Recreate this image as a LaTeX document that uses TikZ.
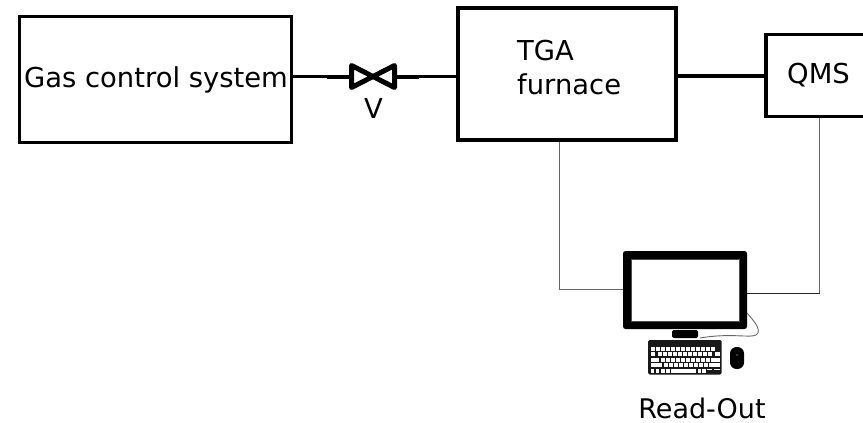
\documentclass[tikz,border=0pt]{standalone}
\usepackage{fontspec}
\setmainfont{DejaVu Sans}
\tikzset{
  x=1pt,y=-1pt,
  blockbox/.style={draw=black,line width=3.5pt,fill=white,inner sep=0pt,rectangle},
  pipe/.style={draw=black,line width=3.2pt},
  lab/.style={font=\fontsize{27.4}{34}\selectfont,text=black,inner sep=0pt},
  keycap/.style={fill=white,draw=none},
}
\begin{document}
\begin{tikzpicture}
\useasboundingbox (0,0) rectangle (863,423);
\node[blockbox,minimum width=272pt,minimum height=126pt] (gas) at (155.5,79.5) {};
\node[blockbox,minimum width=218pt,minimum height=132pt] (tga) at (567,74) {};
\node[blockbox,minimum width=104pt,minimum height=81.6pt] (qms) at (818,75.5) {};
\node[lab,anchor=base] (gaslab) at (156,87) {Gas control system};
\node[lab,align=left,anchor=north west] (tgalab) at (517,40) {TGA\\furnace};
\node[lab,anchor=base] (qmslab) at (818.5,83) {QMS};
\node[lab,anchor=base] (vlab) at (373.5,118) {V};
\node[lab,anchor=base,font=\fontsize{27}{27}\selectfont] (readlab) at (702,418.5) {Read-Out};
% valve
\coordinate (vc) at (373.5,76.7);
\draw[pipe] (gas.east |- vc) -- (352,76.7);
\draw[pipe] (395,76.7) -- (tga.west |- vc);
\draw[pipe,line width=2pt] (327,78) -- (352,78);
\draw[pipe,line width=2pt] (395,78) -- (419,78);
\draw[line width=5pt,black,line join=round] (351.5,65.5) -- (394.5,87.5) -- (394.5,65.5) -- (351.5,87.5) -- cycle;
\draw[draw=black,line width=4pt] (tga.east |- 0,76) -- (qms.west |- 0,76);
% monitor
\node[fill=black,draw=none,rounded corners=2.5pt,minimum width=124pt,minimum height=78pt,inner sep=0pt] (mon) at (685,290) {};
\node[fill=white,draw=black!70,line width=0.3pt,minimum width=108pt,minimum height=62pt,inner sep=0pt] (screen) at (685,290) {};
\coordinate (monL) at (623,289);
\coordinate (monR) at (747,293);
\draw[draw=black!60,line width=1pt] (tga.south -| 559,0) -- (559,289) -- (monL);
\draw[draw=black!60,line width=1pt] (qms.south -| 819.5,0) -- (819.5,293);
\draw[draw=black!85,line width=0.9pt] (819.5,293) -- (monR);
\fill[black,rounded corners=1.5pt] (672,330) rectangle (698,338);
% cable
\draw[black!60,line width=0.9pt] (747,313) .. controls (752,319) and (760,327) .. (758,333) .. controls (755,340) and (735,332) .. (700,338);
% keyboard
\fill[black!90,rounded corners=1.5pt] (648,340) rectangle (721.5,374.5);
\foreach \xx in {650.5,655.5,...,715}{\fill[keycap] (\xx,346.5) rectangle +(4,4.2);}
\foreach \xx in {650.5,658,663,...,710}{\fill[keycap] (\xx,352) rectangle +(4,4.2);}
\fill[keycap] (715,352) rectangle (719.5,356.2);
\fill[keycap] (650.5,357.6) rectangle (659,361.8);
\foreach \xx in {660.5,665.5,...,706}{\fill[keycap] (\xx,357.6) rectangle +(4,4.2);}
\fill[keycap] (710.5,357.6) rectangle (719.5,361.8);
\fill[keycap] (650.5,363.2) rectangle (662,367.4);
\foreach \xx in {663.5,668.5,...,705}{\fill[keycap] (\xx,363.2) rectangle +(4,4.2);}
\fill[keycap] (708.5,363.2) rectangle (719.5,367.4);
\foreach \xx in {650.5,655.5,661,666}{\fill[keycap] (\xx,368.8) rectangle +(3.8,4);}
\fill[keycap] (671,368.8) rectangle (696,372.8);
\foreach \xx in {697.5,702}{\fill[keycap] (\xx,368.8) rectangle +(3.5,4);}
\fill[keycap] (707,368.8) rectangle (712,370);
\fill[keycap] (714,368.8) rectangle (719.5,370);
% mouse
\fill[black,rounded corners=6.5pt] (730,347) rectangle (744,369);
\fill[black!55] (737,355) circle (0.9pt);
\end{tikzpicture}
\end{document}
